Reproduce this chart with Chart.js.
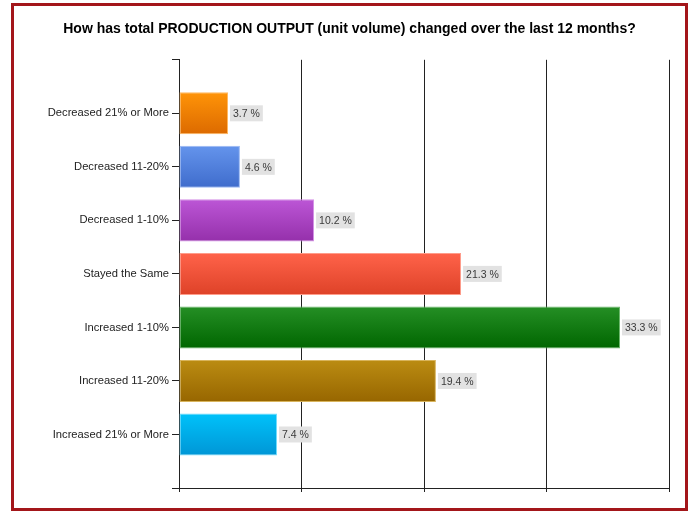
<!DOCTYPE html>
<html>
<head>
<meta charset="utf-8">
<script src="https://cdn.jsdelivr.net/npm/chart.js@4"></script>
<style>
  html, body { margin: 0; padding: 0; background: #fff; }
  #wrap { width: 695px; height: 513px; }
</style>
</head>
<body>
<div id="wrap"><canvas id="barchart" width="695" height="513"></canvas></div>
<script>
const categories = [
  "Decreased 21% or More",
  "Decreased 11-20%",
  "Decreased 1-10%",
  "Stayed the Same",
  "Increased 1-10%",
  "Increased 11-20%",
  "Increased 21% or More",
];
const values = [3.7, 4.6, 10.2, 21.3, 33.3, 19.4, 7.4];

// top / bottom colour of each bar's gradient
const topColors = ["#ff9408", "#6494ec", "#bc56d6", "#ff634a", "#258f25", "#bb8c12", "#00c2fa"];
const bottomColors = ["#dc6a00", "#3f6ccc", "#9530ab", "#de4228", "#006600", "#976600", "#0096d6"];
const edgeColors = ["#ffb860", "#9ab8f4", "#d490e6", "#ff9c8a", "#6cb86c", "#d8b45c", "#70dcfc"];

const ctx = document.getElementById("barchart");

function barGradient(c) {
  const chart = c.chart;
  const i = c.dataIndex;
  const y = chart.scales.y;
  if (!chart.chartArea || !y) return topColors[i];
  const center = y.getPixelForValue(i + 1);
  const half = 21;
  const g = chart.ctx.createLinearGradient(0, center - half, 0, center + half);
  g.addColorStop(0, topColors[i]);
  g.addColorStop(1, bottomColors[i]);
  return g;
}

// red frame round the whole chart
const framePlugin = {
  id: "frame",
  afterDraw(chart) {
    const c = chart.ctx;
    c.save();
    c.strokeStyle = "#a3161a";
    c.lineWidth = 3;
    c.strokeRect(12.5, 4.5, 674, 505);
    c.restore();
  },
};

// grey value boxes at the end of each bar
const valueLabels = {
  id: "valueLabels",
  afterDatasetsDraw(chart) {
    const c = chart.ctx;
    const meta = chart.getDatasetMeta(0);
    c.save();
    c.font = "10.5px 'Liberation Sans', Arial, sans-serif";
    c.textBaseline = "middle";
    meta.data.forEach((bar, i) => {
      const text = values[i].toFixed(1) + " %";
      const w = c.measureText(text).width;
      const x = bar.x + 2;
      c.fillStyle = "#e2e2e2";
      c.fillRect(x, bar.y - 8, w + 6, 16);
      c.fillStyle = "#3a3a3a";
      c.fillText(text, x + 3, bar.y + 1);
    });
    c.restore();
  },
};

new Chart(ctx, {
  type: "bar",
  data: {
    datasets: [
      {
        data: values.map((v, i) => ({ x: v, y: i + 1 })),
        backgroundColor: barGradient,
        borderColor: edgeColors,
        borderWidth: 1,
        borderSkipped: false,
        barPercentage: 0.785,
        categoryPercentage: 1,
      },
    ],
  },
  options: {
    indexAxis: "y",
    responsive: false,
    animation: false,
    layout: { padding: { top: 0, right: 26, bottom: 21, left: 30 } },
    plugins: {
      legend: { display: false },
      tooltip: { enabled: false },
      title: {
        display: true,
        text: "How has total PRODUCTION OUTPUT (unit volume) changed over the last 12 months?",
        color: "#000",
        font: { family: "'Liberation Sans', Arial, sans-serif", size: 14, weight: "bold" },
        padding: { top: 21, bottom: 22 },
      },
    },
    scales: {
      x: {
        type: "linear",
        min: 0,
        max: 37,
        ticks: { display: false, stepSize: 9.25 },
        grid: { color: "#222", lineWidth: 1, tickLength: 4, drawTicks: true },
        border: { color: "#222" },
        afterFit(scale) { scale.height = 4; },
      },
      y: {
        type: "linear",
        min: 0,
        max: 8,
        offset: false,
        reverse: true,
        ticks: {
          stepSize: 1,
          autoSkip: false,
          padding: 3,
          color: "#222",
          font: { family: "'Liberation Sans', Arial, sans-serif", size: 11.2 },
          callback: (v) => categories[v - 1] || "",
        },
        grid: { drawOnChartArea: false, offset: false, color: "#222", tickLength: 7 },
        border: { color: "#222" },
        afterFit(scale) { scale.width = 149; },
      },
    },
  },
  plugins: [framePlugin, valueLabels],
});
</script>
</body>
</html>
